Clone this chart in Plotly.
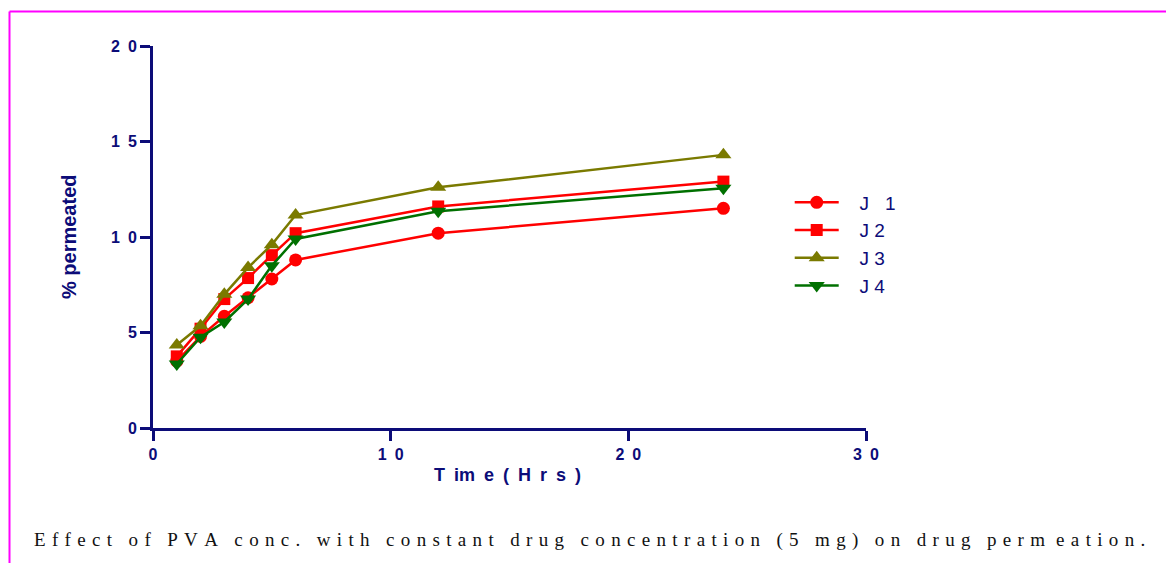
import plotly.graph_objects as go

time_hrs = [1, 2, 3, 4, 5, 6, 12, 24]
j1 = [3.5, 4.8, 5.85, 6.82, 7.8, 8.8, 10.2, 11.5]
j2 = [3.75, 5.2, 6.75, 7.85, 9.05, 10.2, 11.6, 12.9]
j3 = [4.35, 5.35, 7.0, 8.4, 9.6, 11.15, 12.6, 14.3]
j4 = [3.35, 4.75, 5.55, 6.75, 8.5, 9.9, 11.35, 12.55]

NB = "\u00a0"
EN = "\u2002"
THIRD = "\u2004"
QUART = "\u2005"
THIN = "\u2009"
series_names = [NB * 3 + "J" + NB * 3 + "1", NB * 3 + "J" + NB + "2", NB * 3 + "J" + NB + "3", NB * 3 + "J" + NB + "4"]
series_colors = ["#ff0000", "#ff0000", "#7a7a00", "#007000"]
series_symbols = ["circle", "square", "triangle-up", "triangle-down"]
series_sizes = [13, 12, 14, 14]

x_ticks = [0, 10, 20, 30]
x_ticktext = ["<b>0</b>", "<b>1" + EN + "0</b>", "<b>2" + EN + "0</b>", "<b>3" + EN + "0</b>"]
y_ticks = [0, 5, 10, 15, 20]
y_ticktext = ["<b>0</b>", "<b>5</b>", "<b>1" + EN + "0</b>", "<b>1" + EN + "5</b>", "<b>2" + EN + "0</b>"]

NAVY = "#0c0c78"

fig = go.Figure()
for name, ys, col, sym, sz in zip(series_names, [j1, j2, j3, j4], series_colors, series_symbols, series_sizes):
    fig.add_trace(go.Scatter(
        x=time_hrs, y=ys, name=name, mode="lines+markers",
        line=dict(color=col, width=2.5),
        marker=dict(symbol=sym, size=sz, color=col, line=dict(width=0)),
    ))

axis_common = dict(
    showline=True, linecolor=NAVY, linewidth=3,
    ticks="outside", tickcolor=NAVY, tickwidth=3, ticklen=10,
    showgrid=False, zeroline=False,
    tickfont=dict(family="Liberation Sans, Arial", size=16, color=NAVY),
)

fig.update_layout(
    width=1166, height=563,
    margin=dict(l=153, r=300, t=46, b=135),
    paper_bgcolor="white", plot_bgcolor="white",
    xaxis=dict(range=[0, 30], tickvals=x_ticks, ticktext=x_ticktext, **axis_common),
    yaxis=dict(range=[0, 20], tickvals=y_ticks, ticktext=y_ticktext, **axis_common),
    legend=dict(
        x=0.893, y=0.64, xanchor="left", yanchor="top",
        font=dict(family="Liberation Sans, Arial", size=19, color=NAVY),
        bgcolor="rgba(0,0,0,0)", itemwidth=44,
    ),
    showlegend=True,
)

def spaced(s, gap, wgap):
    return wgap.join(gap.join(list(w)) for w in s.split(" "))

caption = spaced("Effect of PVA conc. with constant drug concentration (5 mg) on drug permeation.",
                 THIRD, THIRD + THIRD + THIN)
caption = caption.replace("m" + THIRD + "e" + THIRD + "a", "m" + THIRD + QUART + "e" + THIRD + "a")

xtitle = "<b>" + EN.join(["T", "im", "e", "(", "H", "r", "s", ")"]) + "</b>"

annotations = [
    dict(text="<b>% permeated</b>", x=69, y=237, textangle=-90,
         font=dict(family="Liberation Sans, Arial", size=20, color=NAVY)),
    dict(text=xtitle, x=507, y=475,
         font=dict(family="Liberation Sans, Arial", size=18, color=NAVY)),
    dict(text=caption, x=589, y=540,
         font=dict(family="Liberation Serif, Times New Roman", size=19, color="#111111")),
]
W, H = 713.0, 382.0
for a in annotations:
    a["x"] = (a["x"] - 153) / W
    a["y"] = (428 - a["y"]) / H
    a.update(xref="paper", yref="paper", showarrow=False, xanchor="center", yanchor="middle")
fig.update_layout(annotations=annotations)

def px_x(p):
    return (p - 153) / W

def px_y(p):
    return (428 - p) / H

fig.add_shape(type="line", xref="paper", yref="paper",
              x0=px_x(9.5), x1=px_x(1170), y0=px_y(11.5), y1=px_y(11.5),
              line=dict(color="#ff00ff", width=2))
fig.add_shape(type="line", xref="paper", yref="paper",
              x0=px_x(9.5), x1=px_x(9.5), y0=px_y(11.5), y1=px_y(570),
              line=dict(color="#ff00ff", width=2))

fig.write_html("out.html")
